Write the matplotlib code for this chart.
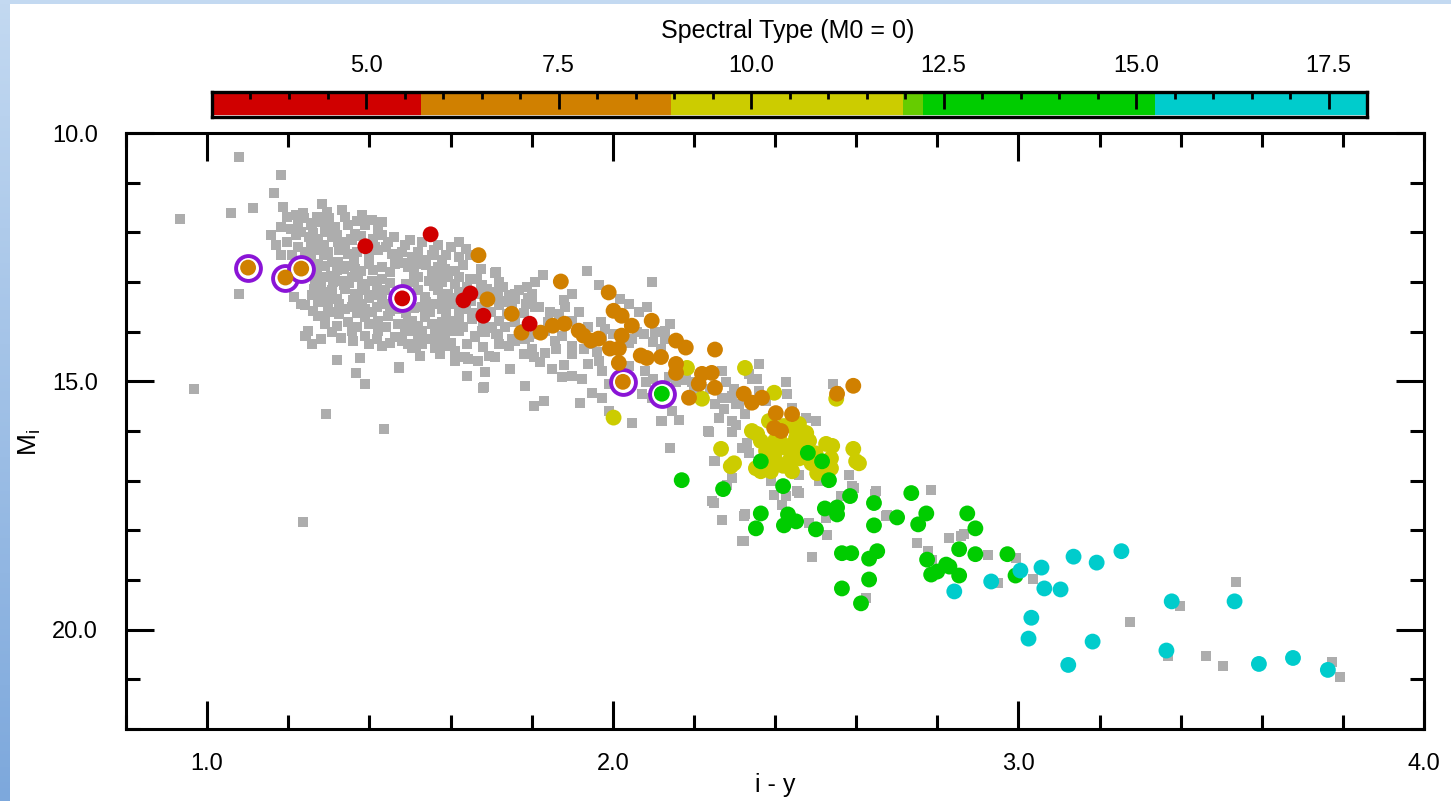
import matplotlib
matplotlib.use("Agg")
import matplotlib.pyplot as plt
import numpy as np
from matplotlib.colors import ListedColormap, BoundaryNorm, LinearSegmentedColormap
from matplotlib.patches import Rectangle
from matplotlib.ticker import MultipleLocator, FormatStrFormatter

plt.rcParams["font.family"] = ["Liberation Sans", "DejaVu Sans"]

# colour scale (spectral type, M0 = 0)
spt_bounds = [3.0, 5.72, 8.96, 11.97, 12.23, 15.25, 18.0]
spt_colors = ["#D00000", "#D08000", "#CCCC00", "#66CC00", "#00CC00", "#00CCCC"]
cbar_ticks = [5.0, 7.5, 10.0, 12.5, 15.0, 17.5]

# field sample without spectral type (grey squares): (i-y, M_i)
gray = np.array([
    (1.079, 10.48), (1.182, 10.85), (1.164, 11.20), (1.112, 11.51), (1.060, 11.62),
    (0.933, 11.74), (1.186, 11.49), (1.157, 12.06), (1.079, 13.24), (1.215, 13.31),
    (0.968, 15.15), (1.294, 15.66), (1.437, 15.96), (1.237, 17.84),
    (1.198, 11.69), (1.219, 11.66), (1.239, 11.72), (1.182, 11.89), (1.207, 11.93),
    (1.231, 11.99), (1.256, 11.86), (1.281, 11.79), (1.305, 11.93), (1.169, 12.26),
    (1.198, 12.20), (1.223, 12.30), (1.256, 12.20), (1.289, 12.26), (1.322, 12.20),
    (1.355, 12.13), (1.182, 12.46), (1.256, 12.53), (1.289, 12.46), (1.322, 12.60),
    (1.363, 12.53), (1.272, 12.80), (1.305, 12.87), (1.338, 12.73), (1.371, 12.87),
    (1.264, 13.14), (1.305, 13.20), (1.338, 13.07), (1.371, 13.27), (1.289, 13.41),
    (1.321, 14.57), (1.378, 14.53), (1.368, 14.83), (1.390, 15.05), (1.472, 14.73),
    (1.514, 14.32), (1.526, 14.48), (1.575, 14.44), (1.612, 14.59), (1.249, 13.98),
    (1.244, 14.08), (1.232, 13.45), (1.640, 14.89), (1.681, 15.13), (1.686, 14.82),
    (1.644, 14.55),
    (1.283, 11.42), (1.237, 11.62), (1.295, 11.59), (1.332, 11.55), (1.381, 11.66),
    (1.406, 11.76), (1.225, 11.82), (1.258, 11.82), (1.291, 11.82), (1.316, 11.89),
    (1.348, 11.86), (1.365, 12.03), (1.422, 11.96), (1.447, 12.19), (1.250, 12.09),
    (1.274, 12.13), (1.307, 12.09), (1.332, 12.19), (1.357, 12.16), (1.414, 12.30),
    (1.488, 12.26), (1.241, 12.40), (1.266, 12.36), (1.299, 12.40), (1.324, 12.36),
    (1.348, 12.43), (1.422, 12.36), (1.455, 12.43), (1.480, 12.40), (1.505, 12.50),
    (1.529, 12.56), (1.554, 12.46), (1.579, 12.56), (1.274, 12.63), (1.307, 12.60),
    (1.340, 12.67), (1.365, 12.73), (1.398, 12.63), (1.431, 12.70), (1.463, 12.63),
    (1.496, 12.70), (1.521, 12.63), (1.554, 12.77), (1.587, 12.73), (1.612, 12.77),
    (1.620, 12.19), (1.637, 12.33), (1.649, 12.46), (1.674, 12.73), (1.711, 12.80),
    (1.266, 12.97), (1.291, 12.90), (1.316, 12.87), (1.332, 12.97), (1.357, 12.90),
    (1.381, 13.04), (1.406, 12.97), (1.431, 12.93), (1.521, 12.90), (1.546, 12.97),
    (1.570, 12.87), (1.595, 12.90), (1.620, 12.90), (1.649, 12.93), (1.674, 13.07),
    (1.719, 13.00), (1.258, 13.27), (1.283, 13.24), (1.307, 13.17), (1.340, 13.14),
    (1.365, 13.24), (1.389, 13.17), (1.414, 13.27), (1.439, 13.17), (1.521, 13.17),
    (1.538, 13.31), (1.570, 13.17), (1.595, 13.24), (1.620, 13.21), (1.669, 13.24),
    (1.711, 13.21), (1.744, 13.27), (1.768, 13.17), (1.801, 13.24), (1.241, 13.47),
    (1.274, 13.41), (1.299, 13.51), (1.324, 13.44), (1.357, 13.51), (1.381, 13.44),
    (1.406, 13.61), (1.439, 13.44), (1.472, 13.54), (1.529, 13.51), (1.554, 13.44),
    (1.579, 13.54), (1.604, 13.44), (1.637, 13.54), (1.678, 13.51), (1.719, 13.47),
    (1.752, 13.54), (1.785, 13.44), (1.809, 13.51), (1.274, 13.68), (1.291, 13.71),
    (1.324, 13.64), (1.348, 13.81), (1.389, 13.71), (1.422, 13.78), (1.447, 13.68),
    (1.496, 13.78), (1.538, 13.71), (1.562, 13.84), (1.604, 13.78), (1.653, 13.74),
    (1.719, 13.78), (1.735, 13.91), (1.760, 13.81), (1.241, 14.08), (1.307, 14.01),
    (1.357, 13.98), (1.389, 14.08), (1.422, 13.98), (1.463, 14.11), (1.513, 13.98),
    (1.562, 14.05), (1.587, 14.11), (1.620, 13.98), (1.661, 14.11), (1.686, 14.01),
    (1.711, 14.05), (1.752, 14.15), (1.793, 14.11), (1.258, 14.25), (1.398, 14.25),
    (1.431, 14.28), (1.496, 14.25), (1.529, 14.25), (1.562, 14.32),
    (1.937, 12.78), (2.097, 13.00), (1.827, 12.85), (1.809, 13.00), (1.788, 13.10),
    (1.760, 13.24), (1.710, 12.82), (1.665, 12.94), (1.677, 13.07), (1.718, 13.24),
    (1.735, 13.41), (1.801, 13.44), (1.817, 13.51), (1.846, 13.61), (1.867, 13.64),
    (1.900, 13.24), (1.879, 13.37), (1.883, 13.51), (1.966, 13.07), (1.970, 13.81),
    (1.916, 13.61), (1.900, 13.78), (2.019, 13.34), (2.039, 13.44), (2.064, 13.61),
    (2.085, 13.51), (2.142, 13.85), (2.130, 13.98), (2.130, 14.15), (2.105, 14.01),
    (2.077, 14.05), (2.048, 14.15), (2.039, 14.22), (1.974, 14.12), (1.949, 14.25),
    (1.928, 14.35), (1.900, 14.28), (1.875, 14.08), (1.858, 14.18), (1.834, 13.98),
    (1.809, 14.05), (1.784, 14.15), (1.760, 14.18), (1.743, 14.28), (1.718, 14.05),
    (1.702, 13.91), (1.677, 13.98), (1.661, 14.08), (1.603, 13.98), (1.579, 13.91),
    (1.620, 13.78), (1.554, 13.85), (1.529, 13.98), (1.505, 13.78), (1.488, 13.98),
    (1.521, 14.18), (1.505, 14.32), (1.562, 14.18), (1.587, 14.28), (1.611, 14.38),
    (1.636, 14.52), (1.669, 14.59), (1.694, 14.48), (1.710, 14.52), (1.747, 14.75),
    (1.805, 14.52), (1.834, 14.42), (1.850, 14.75), (1.875, 14.92), (1.900, 14.89),
    (1.924, 14.96), (1.966, 14.59), (1.974, 14.79), (1.949, 15.23), (1.974, 15.33),
    (1.990, 15.60), (2.048, 15.83), (2.122, 15.80), (2.163, 15.77), (2.146, 15.60),
    (2.081, 15.02), (2.072, 15.26), (2.097, 15.33), (2.138, 14.92), (2.155, 15.02),
    (2.171, 14.89), (2.196, 15.02), (2.270, 14.79), (2.278, 15.02), (2.295, 15.33),
    (2.303, 15.46), (2.336, 14.86), (2.356, 14.96), (2.360, 14.65), (2.426, 15.02),
    (2.430, 15.26), (2.443, 15.53), (2.237, 16.03), (2.249, 16.61), (2.295, 16.03),
    (2.319, 16.34), (2.398, 17.28), (2.418, 17.48), (2.142, 16.34), (2.245, 17.41),
    (2.270, 17.79), (2.323, 17.72), (2.319, 18.22), (2.455, 17.21), (2.500, 15.80),
    (2.509, 17.01), (2.525, 17.75), (2.529, 18.09), (2.583, 16.88), (2.591, 17.11),
    (2.648, 17.21), (2.673, 17.72), (2.542, 15.06), (2.550, 15.19), (2.360, 15.19),
    (2.377, 15.39), (1.920, 15.43), (1.830, 15.39), (1.805, 15.50), (1.784, 15.09),
    (1.682, 15.12), (1.640, 14.89), (1.472, 14.72),
    (2.344, 14.96), (2.295, 15.29), (2.311, 15.46), (2.274, 15.56), (2.262, 15.73),
    (2.295, 15.80), (2.303, 15.87), (2.235, 16.01), (2.327, 15.66), (2.332, 16.24),
    (2.336, 16.44), (2.252, 16.61), (2.295, 16.94), (2.282, 17.08), (2.476, 15.73),
    (2.595, 17.14), (2.647, 17.27), (2.459, 16.88), (2.249, 17.45), (2.426, 17.31),
    (2.389, 17.01),
    (2.784, 17.18), (2.677, 17.70), (2.562, 17.31), (2.484, 17.85), (2.492, 18.53),
    (2.324, 18.22), (2.326, 17.68), (2.459, 17.25), (2.751, 18.26), (2.776, 18.42),
    (2.830, 18.15), (2.858, 18.12), (2.867, 18.07), (2.924, 18.49), (2.994, 18.56),
    (3.035, 18.98), (2.949, 19.06), (2.788, 18.59), (2.624, 19.37), (2.142, 16.35),
    (2.120, 15.80), (2.253, 15.46), (2.270, 15.33),
    (3.274, 19.85), (3.398, 19.52), (3.537, 19.04), (3.369, 20.54), (3.462, 20.53),
    (3.504, 20.73), (3.774, 20.66), (3.794, 20.96),
    # dense core of the sequence
    (1.27, 11.70), (1.30, 11.72), (1.34, 11.70), (1.37, 11.78), (1.39, 11.86), (1.43, 11.80),
    (1.22, 12.05), (1.26, 12.02), (1.29, 12.00), (1.32, 12.05), (1.38, 12.08), (1.41, 12.13),
    (1.43, 12.05), (1.46, 12.10), (1.50, 12.15), (1.53, 12.20), (1.57, 12.25), (1.60, 12.30),
    (1.21, 12.45), (1.28, 12.33), (1.34, 12.30), (1.37, 12.40), (1.40, 12.47), (1.44, 12.30),
    (1.47, 12.52), (1.52, 12.40), (1.56, 12.35), (1.59, 12.45), (1.62, 12.50),
    (1.29, 12.68), (1.32, 12.75), (1.38, 12.78), (1.41, 12.75), (1.45, 12.80), (1.48, 12.62),
    (1.51, 12.80), (1.54, 12.65), (1.57, 12.70), (1.63, 12.65),
    (1.28, 13.05), (1.31, 13.00), (1.35, 13.02), (1.42, 13.07), (1.45, 13.02), (1.49, 13.05),
    (1.51, 13.00), (1.56, 13.08), (1.58, 13.00), (1.61, 13.05), (1.64, 13.10), (1.69, 13.15),
    (1.73, 13.10),
    (1.30, 13.30), (1.32, 13.35), (1.36, 13.37), (1.40, 13.33), (1.43, 13.35), (1.46, 13.28),
    (1.54, 13.40), (1.58, 13.35), (1.61, 13.33), (1.65, 13.38), (1.69, 13.33), (1.72, 13.38),
    (1.76, 13.35), (1.79, 13.32),
    (1.26, 13.58), (1.31, 13.60), (1.34, 13.55), (1.37, 13.62), (1.39, 13.55), (1.42, 13.50),
    (1.45, 13.58), (1.49, 13.62), (1.51, 13.52), (1.55, 13.60), (1.59, 13.63), (1.62, 13.58),
    (1.66, 13.62), (1.70, 13.60), (1.74, 13.65), (1.78, 13.62),
    (1.29, 13.85), (1.32, 13.88), (1.37, 13.90), (1.40, 13.85), (1.44, 13.90), (1.47, 13.85),
    (1.52, 13.88), (1.58, 13.80), (1.63, 13.90), (1.68, 13.87), (1.70, 13.92), (1.78, 13.95),
    (1.28, 14.15), (1.33, 14.12), (1.36, 14.18), (1.42, 14.15), (1.45, 14.22), (1.48, 14.18),
    (1.54, 14.15), (1.60, 14.22), (1.64, 14.25), (1.68, 14.30), (1.72, 14.25),
    (1.84, 13.80), (1.88, 13.85), (1.94, 13.90), (1.98, 13.95), (2.00, 14.05), (2.06, 14.00),
    (2.10, 14.20), (2.12, 14.35), (1.96, 14.40), (1.90, 14.45), (1.86, 14.35), (1.80, 14.35),
    (1.78, 14.45), (1.82, 14.62), (1.88, 14.68), (1.94, 14.65), (2.04, 14.70), (2.08, 14.80),
    (2.10, 14.95), (2.18, 14.98), (2.02, 15.15), (1.99, 15.05), (2.24, 15.15), (2.20, 15.20),
    (2.30, 15.15),
])

# objects with spectral types: (i-y, M_i, spectral type)
yellow_pts = [
    (2.183, 14.73, 9), (2.326, 14.73, 10), (2.220, 15.35, 9), (2.002, 15.73, 9),
    (2.398, 15.23, 10), (2.267, 16.36, 10), (2.299, 16.65, 10), (2.291, 16.71, 10),
    (2.353, 16.75, 10), (2.365, 16.81, 11), (2.343, 16.00, 10), (2.356, 16.06, 10),
    (2.378, 16.40, 10), (2.402, 16.40, 10), (2.427, 16.34, 10), (2.402, 16.61, 10),
    (2.435, 16.61, 11), (2.442, 16.81, 10), (2.410, 16.14, 10), (2.452, 16.14, 10),
    (2.477, 16.04, 10), (2.484, 16.20, 11), (2.459, 15.86, 10), (2.526, 16.26, 10),
    (2.541, 16.30, 10), (2.538, 16.55, 11), (2.538, 16.75, 10), (2.526, 16.81, 11),
    (2.504, 16.85, 10), (2.593, 16.36, 10), (2.600, 16.61, 10), (2.607, 16.65, 10),
    (2.551, 15.35, 10), (2.385, 15.80, 10), (2.422, 15.90, 10), (2.365, 16.20, 10),
    (2.435, 16.30, 10), (2.390, 16.81, 10), (2.400, 16.20, 10), (2.440, 16.45, 10),
    (2.470, 16.35, 11), (2.420, 16.70, 10), (2.460, 16.55, 10), (2.500, 16.45, 10),
    (2.380, 16.55, 10), (2.450, 15.95, 10), (2.490, 16.65, 11), (2.410, 16.05, 10),
]
orange_pts = [
    (1.669, 12.46, 7), (1.691, 13.35, 6), (1.751, 13.64, 6), (1.775, 14.02, 7),
    (1.822, 14.02, 7), (1.852, 13.88, 7), (1.881, 13.84, 6), (1.872, 12.99, 7),
    (1.916, 13.98, 7), (1.928, 14.08, 8), (1.946, 14.18, 7), (1.965, 14.14, 7),
    (1.990, 13.21, 6), (2.002, 13.58, 7), (2.022, 13.68, 7), (2.047, 13.88, 8),
    (2.096, 13.78, 7), (2.022, 14.08, 7), (1.993, 14.34, 8), (2.015, 14.34, 7),
    (2.015, 14.63, 8), (2.069, 14.48, 7), (2.084, 14.53, 8), (2.119, 14.51, 7),
    (2.156, 14.18, 8), (2.180, 14.32, 7), (2.252, 14.36, 8), (2.156, 14.65, 8),
    (2.156, 14.83, 8), (2.220, 14.85, 8), (2.244, 14.83, 7), (2.212, 15.05, 8),
    (2.252, 15.13, 8), (2.188, 15.33, 8), (2.323, 15.25, 8), (2.343, 15.43, 8),
    (2.368, 15.33, 8), (2.402, 15.64, 8), (2.442, 15.66, 8), (2.398, 15.94, 8),
    (2.415, 16.00, 8), (2.553, 15.25, 8), (2.593, 15.09, 7), (2.025, 15.01, 7),
    (1.101, 12.71, 6), (1.193, 12.91, 6), (1.232, 12.73, 6),
]
red_pts = [
    (1.390, 12.28, 5), (1.551, 12.04, 4), (1.481, 13.33, 5), (1.632, 13.37, 5),
    (1.649, 13.23, 4), (1.681, 13.68, 5), (1.795, 13.84, 5),
]
green_pts = [
    (2.121, 15.25, 13), (2.170, 16.99, 13), (2.272, 17.17, 13), (2.420, 17.11, 14),
    (2.481, 16.44, 13), (2.516, 16.61, 13), (2.533, 16.99, 13), (2.585, 17.31, 14),
    (2.644, 17.45, 14), (2.644, 17.90, 14), (2.523, 17.56, 14), (2.553, 17.54, 14),
    (2.553, 17.68, 13), (2.501, 17.98, 14), (2.432, 17.68, 14), (2.452, 17.82, 13),
    (2.422, 17.90, 14), (2.365, 17.66, 13), (2.353, 17.96, 14), (2.736, 17.25, 14),
    (2.701, 17.74, 14), (2.773, 17.66, 14), (2.753, 17.88, 14), (2.874, 17.66, 15),
    (2.894, 17.96, 14), (2.565, 18.46, 14), (2.588, 18.46, 14), (2.632, 18.57, 15),
    (2.652, 18.42, 14), (2.775, 18.59, 14), (2.785, 18.89, 15), (2.800, 18.83, 14),
    (2.822, 18.69, 14), (2.854, 18.38, 15), (2.854, 18.91, 14), (2.894, 18.48, 14),
    (2.973, 18.48, 15), (2.993, 18.91, 15), (2.830, 18.73, 14), (2.565, 19.17, 15),
    (2.632, 18.99, 14), (2.612, 19.47, 15), (2.365, 16.61, 13),
]
cyan_pts = [
    (2.842, 19.23, 16), (2.933, 19.03, 16), (3.005, 18.81, 16), (3.057, 18.75, 16),
    (3.064, 19.17, 16), (3.104, 19.19, 17), (3.136, 18.53, 16), (3.193, 18.65, 17),
    (3.254, 18.42, 16), (3.032, 19.76, 17), (3.025, 20.18, 17), (3.183, 20.24, 17),
    (3.123, 20.71, 17), (3.378, 19.43, 16), (3.533, 19.43, 17), (3.365, 20.42, 17),
    (3.593, 20.69, 17), (3.677, 20.57, 17), (3.763, 20.81, 17),
]

# circled objects
ring_x = [1.101, 1.193, 1.232, 1.481, 2.025, 2.121]
ring_y = [12.71, 12.91, 12.73, 13.33, 15.01, 15.25]

W, H = 1451, 801
fig = plt.figure(figsize=(W / 100, H / 100), dpi=100)
fig.patch.set_facecolor("white")

# slide-like frame: blue strip on the left, light strip on top
bg = fig.add_axes([0, 0, 1, 1])
strip = LinearSegmentedColormap.from_list("strip", ["#C3D9F1", "#7DA8DC"])
bg.imshow(np.linspace(0, 1, 256)[:, None], extent=[0, 10, H, 0], cmap=strip, aspect="auto")
bg.add_patch(Rectangle((0, 0), W, 4, color="#C3D9F1", lw=0))
bg.set_xlim(0, W)
bg.set_ylim(H, 0)
bg.axis("off")

cmap = ListedColormap(spt_colors)
norm = BoundaryNorm(spt_bounds, cmap.N)

ax = fig.add_axes([126 / W, 1 - 729 / H, (1424 - 126) / W, (729 - 133) / H])
ax.scatter(gray[:, 0], gray[:, 1], marker="s", s=42, c="#ADADAD", lw=0, zorder=2)

ax.scatter(ring_x, ring_y, s=320, facecolors="white", edgecolors="#8A14D6",
           linewidths=2.8, zorder=3)

for grp in (yellow_pts, orange_pts, red_pts, green_pts, cyan_pts):
    g = np.array(grp)
    ax.scatter(g[:, 0], g[:, 1], c=g[:, 2], cmap=cmap, norm=norm, s=130, lw=0, zorder=4)

ax.set_xlim(0.8, 4.0)
ax.set_ylim(22.0, 10.0)
ax.xaxis.set_major_locator(MultipleLocator(1.0))
ax.xaxis.set_minor_locator(MultipleLocator(0.2))
ax.yaxis.set_major_locator(MultipleLocator(5.0))
ax.yaxis.set_minor_locator(MultipleLocator(1.0))
ax.xaxis.set_major_formatter(FormatStrFormatter("%.1f"))
ax.yaxis.set_major_formatter(FormatStrFormatter("%.1f"))
ax.tick_params(which="both", direction="in", top=True, right=True, width=2.2, labelsize=17)
ax.tick_params(which="major", length=20)
ax.tick_params(which="minor", length=10)
ax.tick_params(axis="x", pad=17)
ax.tick_params(axis="y", pad=20)
for sp in ax.spines.values():
    sp.set_linewidth(2.2)

fig.text(775 / W, 1 - 785 / H, "i - y", ha="center", va="center", fontsize=18)
fig.text(30 / W, 1 - 442 / H, r"$\mathregular{M_i}$", ha="center", va="center",
         fontsize=19, rotation=90)

# colour bar
cax = fig.add_axes([212 / W, 1 - 117 / H, (1367 - 212) / W, 25 / H])
mids = [(a + b) / 2 for a, b in zip(spt_bounds[:-1], spt_bounds[1:])]
cax.pcolormesh(spt_bounds, [0, 1], [mids], cmap=cmap, norm=norm)
cax.axhline(0.06, color="white", lw=1.2)
cax.set_xlim(spt_bounds[0], spt_bounds[-1])
cax.set_ylim(0, 1)
cax.set_yticks([])
cax.set_xticks(cbar_ticks)
cax.xaxis.set_minor_locator(MultipleLocator(0.5))
cax.xaxis.set_major_formatter(FormatStrFormatter("%.1f"))
cax.xaxis.tick_top()
cax.tick_params(which="both", direction="in", width=2.0, labelsize=17, pad=11,
                bottom=False, top=True)
cax.tick_params(which="major", length=12)
cax.tick_params(which="minor", length=5)
for sp in cax.spines.values():
    sp.set_linewidth(2.4)

fig.text(788 / W, 1 - 31 / H, "Spectral Type (M0 = 0)", ha="center", va="center", fontsize=18)

fig.savefig("out.png", dpi=100, facecolor=fig.get_facecolor())
